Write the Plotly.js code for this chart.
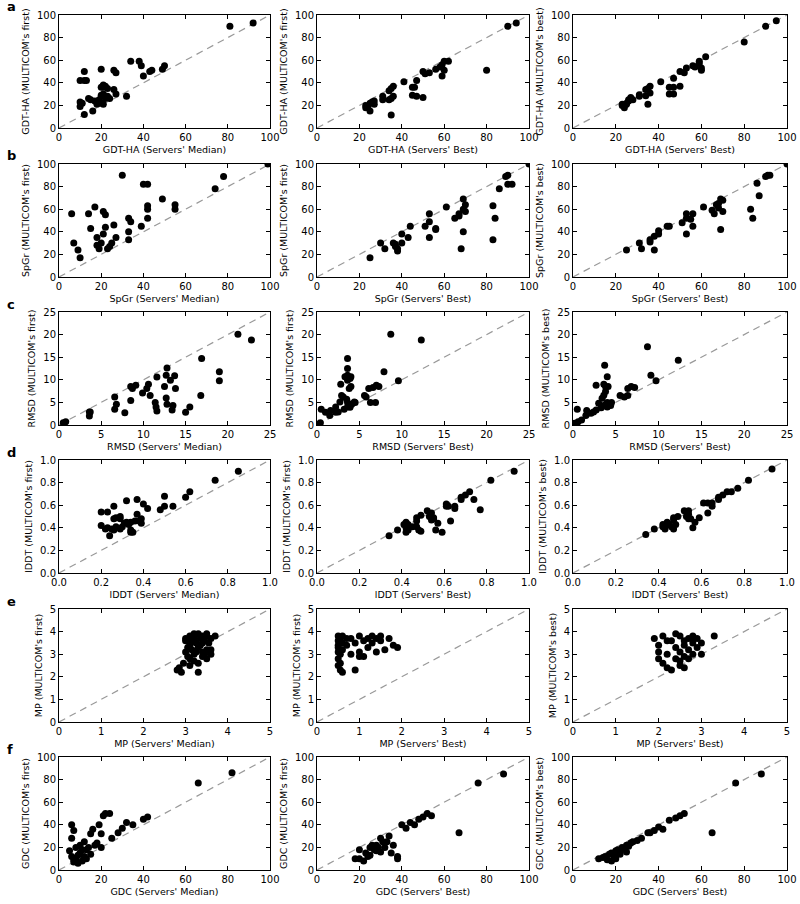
<!DOCTYPE html>
<html>
<head>
<meta charset="utf-8">
<script src="https://cdn.plot.ly/plotly-3.0.1.min.js"></script>
<style>body{margin:0;background:#fff}</style>
</head>
<body>
<div id="chart" style="width:800px;height:904px"></div>
<script>
// row a: GDT-HA
var a1x = [81,92,34,38,39,40,43,44,49,50,26,27,20,12,10,12,13,10,11,10,12,16,14,15,17,18,18,19,20,21,21,22,20,21,20,21,22,22,23,24,23,26,27,32,19];
var a1y = [90,93,59,59,55,46,50,51,52,55,51,49,52,50,42,42,42,19,22,23,12,15,26,25,24,21,23,25,36,36,38,37,22,21,29,30,28,26,28,26,35,34,30,28,24];
var a2x = [94,90,80,62,60,59,58,60,59,56,50,51,53,41,47,45,46,45,47,50,36,35,34,36,35,34,31,31,35,23,24,25,26,27,27,25,23];
var a2y = [93,90,51,59,59,56,54,51,46,52,50,48,49,41,42,36,36,29,28,27,37,35,33,28,26,25,28,25,11.5,20,19,22,23,24,21,15,18];
var a3x = [95,90,80,62,59,59,56,57,60,60,53,50,52,41,47,45,47,45,47,50,36,35,34,36,34,31,31,35,23,24,24,25,26,26,27,28,25,23];
var a3y = [95,90,76,63,59,57,55,54,53,51,53,50,49,41,44,36,36,30,30,37,37,35,34,31,28.5,28,29.5,21,21,20,18,22,24,25,27,25,21,20];

// row b: SpGr
var b1x = [99,30,40,42,74,78,49,55,55,42,42,42,6,17,14,21,22,15,22,26,33,34,33,33,39,21,18,27,20,18,19,23,24,25,7,9,10];
var b1y = [100,90,82,82,78,89,69,64,60,63,60,52,56,62,56,58,55,43,44,46,52,49,40,33,45,38,35,35,30,28,25,25,27,30,30,24,17];
var b2x = [100,89,90,90,92,86,83,84,83,69,61,70,69,70,67,67,65,69,68,53,53,51,56,56,53,44,43,40,40,36,37,38,38,30,32,25,37];
var b2y = [100,89,90,82,82,78,63,52,33,69,62,64,60,58,56,54,52,40,25,56,49,45,43,42,35,45,35,38,30,30,27,25,23,30,25,17,29];
var b3x = [100,90,91,92,86,87,83,84,69,70,68,67,68,70,65,66,61,56,55,56,53,53,51,53,69,44,45,40,40,38,36,36,31,32,38,25];
var b3y = [100,89,90,90,83,72,60,52,69,68,65,64,61,58,59,56,62,56,51,45,56,52,48,38,42,45,45,41,38,36,33,31,30,25,24,24];

// row c: RMSD
var c1x = [21.2,22.8,16.9,19,19,16.8,15,15.5,12.8,12.7,13.7,13.2,12.5,13.8,12.7,12.8,13.5,13.4,11.6,10.6,10.4,10.8,9.9,11.4,11.5,11.6,9.1,8.7,8.5,8.5,6.6,6.8,6.6,7.8,3.6,3.7,3.6,0.5,0.8];
var c1y = [20.1,18.8,14.7,11.8,9.8,6.5,2.8,4,12.6,11,10.9,9.9,8.5,8.1,6,4.6,4.3,3.3,10.6,9,8.1,6.5,7.1,5,4,3.1,8.8,8.1,8.5,5.4,6.2,4.6,3.5,2.7,2.9,2.9,2,0.5,0.7];
var c2x = [8.7,12.3,9.6,7.9,3.6,3.6,3.6,3.3,4,3.9,3.6,4,3.8,2.8,2.9,3.1,2.7,3.5,3.6,3.9,4.1,4.4,4.5,3.9,3.6,3.2,2.2,2.5,2.2,1.5,1.6,1,0.5,0.4,0.3,5.6,5.8,6.3,6.9,6.1,6.6,7,7.3];
var c2y = [20.1,18.8,9.8,11.8,14.7,12.5,11,10.7,10.7,10.3,9.9,8.5,8.1,9,6.5,6.2,5.1,5.7,5,4.4,4.6,5.1,5,3.9,4,3.5,4,2.9,2.8,2.1,3.2,2.8,3.5,0.5,0.3,6.5,6.2,5,5,8.1,8.3,8.8,8.5];
var c3x = [8.7,12.3,9.1,9.7,3.7,4,2.7,3.6,3.8,4.1,3.8,3.6,3.4,4,4.5,3,3.7,3.3,4,4.4,2.7,2.4,2.1,1.5,1,0.6,0.2,1.6,0.5,5.5,6,6.4,6.4,6.8,7.2];
var c3y = [17.3,14.3,11,9.8,13.2,10.7,8.8,9,8.5,8.5,7.4,6.6,5.9,5,5,4.8,4.4,3.8,4,4.3,3.3,2.9,2.6,2.1,1.1,0.7,0.4,3.2,3.5,6.5,6.2,6.5,8.1,8.5,8.3];

// row d: lDDT
var d1x = [0.74,0.85,0.62,0.6,0.54,0.5,0.5,0.48,0.42,0.4,0.37,0.32,0.37,0.39,0.38,0.39,0.36,0.2,0.23,0.26,0.2,0.22,0.23,0.25,0.24,0.26,0.27,0.26,0.27,0.29,0.29,0.29,0.3,0.31,0.32,0.33,0.34,0.34,0.35,0.34];
var d1y = [0.82,0.9,0.72,0.67,0.59,0.68,0.59,0.56,0.57,0.61,0.65,0.64,0.52,0.48,0.46,0.44,0.46,0.54,0.54,0.59,0.42,0.39,0.4,0.39,0.33,0.38,0.41,0.48,0.49,0.5,0.48,0.39,0.41,0.44,0.45,0.43,0.45,0.38,0.36,0.36];
var d2x = [0.93,0.82,0.72,0.7,0.68,0.68,0.74,0.77,0.65,0.65,0.61,0.61,0.62,0.63,0.59,0.56,0.57,0.52,0.54,0.53,0.55,0.54,0.55,0.49,0.47,0.47,0.47,0.48,0.49,0.45,0.43,0.42,0.41,0.42,0.42,0.43,0.38,0.34];
var d2y = [0.9,0.82,0.72,0.69,0.67,0.65,0.65,0.56,0.59,0.57,0.61,0.59,0.59,0.46,0.36,0.38,0.44,0.55,0.53,0.5,0.49,0.47,0.48,0.51,0.49,0.46,0.41,0.38,0.37,0.41,0.43,0.45,0.43,0.4,0.36,0.38,0.38,0.33];
var d3x = [0.93,0.82,0.77,0.74,0.72,0.7,0.68,0.68,0.65,0.65,0.61,0.63,0.63,0.59,0.56,0.57,0.52,0.54,0.53,0.54,0.55,0.54,0.49,0.48,0.47,0.47,0.47,0.46,0.45,0.44,0.42,0.42,0.43,0.38,0.34];
var d3y = [0.92,0.82,0.75,0.72,0.72,0.69,0.67,0.65,0.62,0.59,0.62,0.62,0.53,0.49,0.4,0.45,0.55,0.55,0.5,0.48,0.48,0.52,0.5,0.43,0.49,0.47,0.39,0.41,0.43,0.45,0.43,0.41,0.39,0.39,0.34];

// row e: MP
var e1x = [2.8,2.85,2.9,2.95,3.0,3.0,3.05,3.1,3.1,3.1,3.15,3.2,3.2,3.2,3.25,3.3,3.3,3.3,3.35,3.4,3.4,3.4,3.45,3.5,3.5,3.5,3.55,3.6,3.6,3.7,3.05,3.15,3.25,3.35,3.45,3.3,3.2,3.0,3.1,3.4,3.6,3.5];
var e1y = [2.3,2.4,2.2,2.6,3.1,3.6,2.9,3.8,3.4,2.5,3.2,3.7,3.0,2.7,3.5,3.9,3.3,2.2,3.7,3.8,3.1,2.9,3.6,3.2,3.8,2.8,3.5,3.7,3.0,3.8,3.3,3.6,3.1,3.4,3.0,2.6,3.9,3.7,2.8,3.5,3.2,3.9];
var e2x = [0.5,0.5,0.5,0.5,0.5,0.5,0.55,0.55,0.55,0.6,0.6,0.6,0.5,0.55,0.6,0.7,0.8,0.9,1.0,1.0,1.1,1.1,1.2,1.2,1.3,1.4,1.4,1.5,1.5,1.6,1.7,1.8,1.9,0.9,0.8,1.0,1.3,0.7];
var e2y = [3.8,3.6,3.4,3.1,2.8,2.5,3.7,3.0,2.3,3.5,3.2,2.2,3.3,2.6,3.8,3.7,3.0,3.5,3.1,3.8,3.6,2.9,3.7,3.3,3.8,3.7,3.1,3.6,3.8,3.2,3.7,3.4,3.3,2.3,3.7,2.9,3.5,3.4];
var e3x = [1.9,2.0,2.0,2.1,2.1,2.2,2.2,2.3,2.3,2.4,2.4,2.5,2.5,2.5,2.6,2.6,2.6,2.7,2.7,2.7,2.8,2.8,2.8,2.9,2.9,3.0,3.0,3.3,2.4,2.2,2.6,2.0,2.8,2.5];
var e3y = [3.7,3.1,2.8,3.8,2.6,2.4,3.0,2.3,3.6,3.3,2.8,3.8,3.1,2.5,3.6,2.9,3.4,3.7,3.2,2.8,3.8,3.5,3.0,3.3,3.7,3.5,3.0,3.8,3.9,3.6,2.4,3.4,3.7,2.7];

// row f: GDC
var f1x = [6,7,6,5,6,7,8,9,8,10,10,11,12,12,13,14,15,16,17,18,19,20,21,22,24,25,28,30,32,35,40,42,66,82,9,11,13,15,20,7];
var f1y = [40,35,28,17,12,9,10,13,20,22,15,18,25,12,18,20,32,36,22,24,40,32,48,50,50,28,33,37,42,40,45,47,77,86,6,8,10,14,20,7];
var f2x = [88,76,67,20,22,24,25,27,28,30,32,33,35,38,38,40,42,44,46,48,50,52,54,20,23,26,29,31,34,18,25,28,30,36];
var f2y = [85,77,33,10,8,12,20,18,22,28,20,25,15,12,10,40,37,42,40,45,47,50,48,18,15,22,20,25,30,10,13,17,16,22];
var f3x = [88,76,65,12,14,15,16,17,18,19,20,21,22,23,24,25,26,27,28,30,32,35,38,40,42,45,48,50,52,22,25,18,20,36];
var f3y = [85,77,33,10,11,12,9,14,15,13,17,18,16,20,19,22,21,24,25,26,28,33,35,38,36,44,46,48,50,14,16,8,10,33];

var metrics = ['GDT-HA', 'SpGr', 'RMSD', 'lDDT', 'MP', 'GDC'];
var rowMax = [100, 100, 25, 1, 5, 100];
var rowStep = [20, 20, 5, 0.2, 1, 20];
var letters = ['a', 'b', 'c', 'd', 'e', 'f'];
var xNames = ["Servers' Median", "Servers' Best", "Servers' Best"];
var yNames = ["MULTICOM's first", "MULTICOM's first", "MULTICOM's best"];

var xs = [[a1x, a2x, a3x], [b1x, b2x, b3x], [c1x, c2x, c3x], [d1x, d2x, d3x], [e1x, e2x, e3x], [f1x, f2x, f3x]];
var ys = [[a1y, a2y, a3y], [b1y, b2y, b3y], [c1y, c2y, c3y], [d1y, d2y, d3y], [e1y, e2y, e3y], [f1y, f2y, f3y]];

// panel boxes in pixels
var W = 800, H = 904;
var colPx = [[59, 270], [317, 529], [573, 787]];
var rowTop = [15, 164, 312, 460, 609, 757];
var rowH = 113;

var font = 'DejaVu Sans, sans-serif';
var data = [];
var layout = {
  width: W, height: H,
  margin: {l: 0, r: 0, t: 0, b: 0},
  paper_bgcolor: '#fff', plot_bgcolor: '#fff',
  showlegend: false,
  font: {family: font, size: 10, color: '#000'},
  annotations: []
};

for (var r = 0; r < 6; r++) {
  for (var c = 0; c < 3; c++) {
    var n = r * 3 + c + 1;
    var sfx = n > 1 ? n : '';
    var mx = rowMax[r];

    data.push({
      x: [0, mx], y: [0, mx],
      xaxis: 'x' + sfx, yaxis: 'y' + sfx,
      mode: 'lines', hoverinfo: 'skip',
      line: {color: '#999', width: 1.2, dash: '7px,5px'}
    });
    data.push({
      x: xs[r][c], y: ys[r][c],
      xaxis: 'x' + sfx, yaxis: 'y' + sfx,
      mode: 'markers', type: 'scatter',
      marker: {color: '#000', size: 7}
    });

    var axBase = {
      range: [0, mx], dtick: rowStep[r], tick0: 0,
      tickformat: r == 3 ? '.1f' : '',
      showgrid: false, zeroline: false,
      showline: true, mirror: 'ticks', linecolor: '#000', linewidth: 1,
      ticks: 'inside', ticklen: 4, tickcolor: '#000',
      tickfont: {family: font, size: 10, color: '#000'}
    };
    var xa = Object.assign({}, axBase, {
      domain: [colPx[c][0] / W, colPx[c][1] / W],
      anchor: 'y' + sfx,
      title: {text: metrics[r] + ' (' + xNames[c] + ')', font: {family: font, size: 9.5}, standoff: 4}
    });
    var ya = Object.assign({}, axBase, {
      domain: [1 - (rowTop[r] + rowH) / H, 1 - rowTop[r] / H],
      anchor: 'x' + sfx,
      title: {text: metrics[r] + ' (' + yNames[c] + ')', font: {family: font, size: 9.5}, standoff: 5}
    });
    layout['xaxis' + sfx] = xa;
    layout['yaxis' + sfx] = ya;
  }
  layout.annotations.push({
    text: '<b>' + letters[r] + '</b>',
    xref: 'paper', yref: 'paper',
    x: 5 / W, y: 1 - (rowTop[r] - 8) / H,
    xanchor: 'left', yanchor: 'middle',
    showarrow: false,
    font: {family: font, size: 13, color: '#000'}
  });
}

Plotly.newPlot('chart', data, layout, {displayModeBar: false});
</script>
</body>
</html>
